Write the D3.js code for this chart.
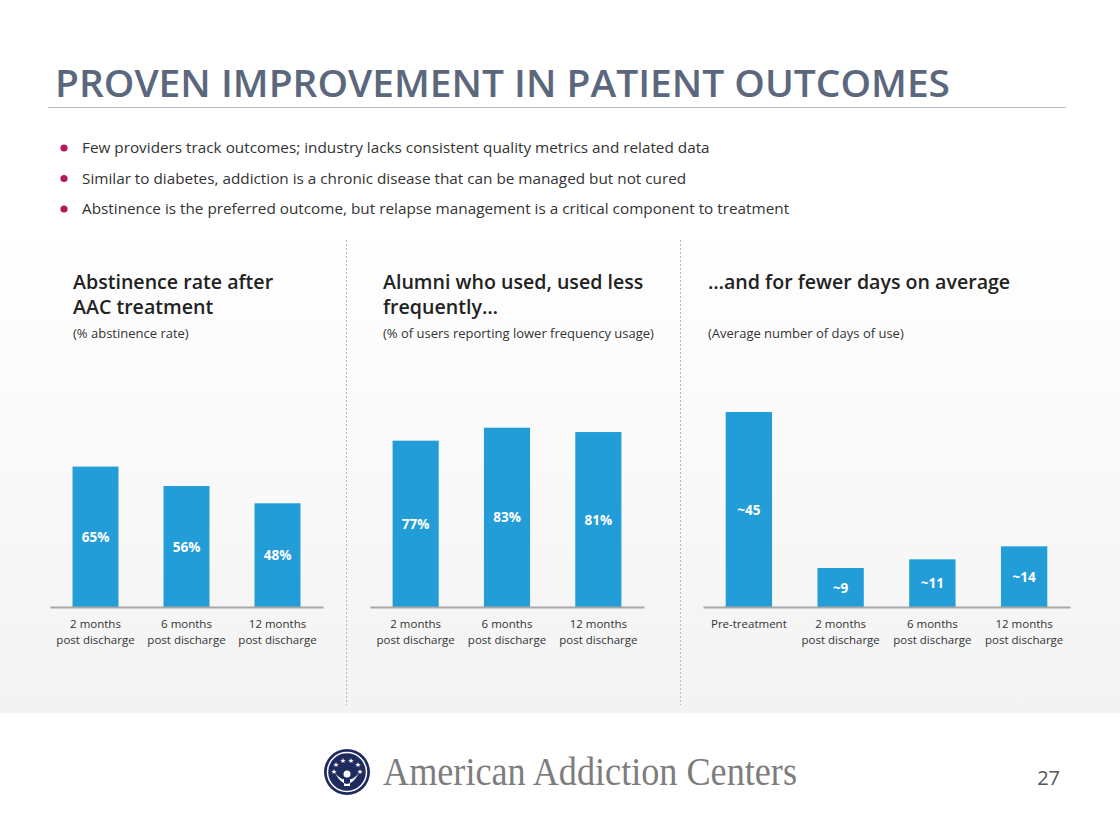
<!DOCTYPE html>
<html><head><meta charset="utf-8">
<script src="https://cdnjs.cloudflare.com/ajax/libs/d3/7.8.5/d3.min.js"></script>
<style>
html,body{margin:0;padding:0;background:#fff;}
svg{display:block;font-family:"Open Sans",sans-serif;}
</style></head>
<body>
<svg id="c" width="1120" height="840"></svg>
<script>
const titleText = "PROVEN IMPROVEMENT IN PATIENT OUTCOMES";
const bullets = [
  "Few providers track outcomes; industry lacks consistent quality metrics and related data",
  "Similar to diabetes, addiction is a chronic disease that can be managed but not cured",
  "Abstinence is the preferred outcome, but relapse management is a critical component to treatment"
];

const abstCategories = [["2 months","post discharge"],["6 months","post discharge"],["12 months","post discharge"]];
const abstValues = [65, 56, 48];
const abstLabels = ["65%","56%","48%"];

const freqCategories = [["2 months","post discharge"],["6 months","post discharge"],["12 months","post discharge"]];
const freqValues = [77, 83, 81];
const freqLabels = ["77%","83%","81%"];

const daysCategories = [["Pre-treatment"],["2 months","post discharge"],["6 months","post discharge"],["12 months","post discharge"]];
const daysValues = [45, 9, 11, 14];
const daysLabels = ["~45","~9","~11","~14"];

const panelTitles = [["Abstinence rate after","AAC treatment"],["Alumni who used, used less","frequently…"],["…and for fewer days on average"]];
const panelSubtitles = ["(% abstinence rate)","(% of users reporting lower frequency usage)","(Average number of days of use)"];

const svg = d3.select("#c");
const defs = svg.append("defs");
const grad = defs.append("linearGradient").attr("id","bg").attr("x1",0).attr("y1",0).attr("x2",0).attr("y2",1);
grad.append("stop").attr("offset","0%").attr("stop-color","#ffffff");
grad.append("stop").attr("offset","100%").attr("stop-color","#f3f3f3");

svg.append("rect").attr("x",0).attr("y",225).attr("width",1120).attr("height",488).attr("fill","url(#bg)");

// Title
svg.append("text").attr("x",55).attr("y",97).attr("font-size",38).attr("font-weight",600)
  .attr("fill","#5b677c").attr("textLength",895).attr("lengthAdjust","spacingAndGlyphs").text(titleText);
svg.append("line").attr("x1",48).attr("x2",1066).attr("y1",107.5).attr("y2",107.5)
  .attr("stroke","#bdbdbd").attr("stroke-width",1.2);

// Bullets
bullets.forEach((b,i)=>{
  const y = 153 + i*30.5;
  svg.append("circle").attr("cx",64).attr("cy",y-5).attr("r",3.6).attr("fill","#b3185b");
  svg.append("text").attr("x",82).attr("y",y).attr("font-size",15.3).attr("fill","#333").text(b);
});

// dividers
[346,680].forEach(x=>{
  svg.append("line").attr("x1",x+0.5).attr("x2",x+0.5).attr("y1",240).attr("y2",705)
    .attr("stroke","#b8b8b8").attr("stroke-width",1).attr("stroke-dasharray","2,2");
});

// Panel titles
const titleX = [73,383,708];
panelTitles.forEach((lines,i)=>{
  lines.forEach((l,j)=>{
    svg.append("text").attr("x",titleX[i]).attr("y",289+j*24.5).attr("font-size",19.6)
      .attr("font-weight",600).attr("fill","#222").text(l);
  });
  svg.append("text").attr("x",titleX[i]).attr("y",338).attr("font-size",13)
    .attr("fill","#333").text(panelSubtitles[i]);
});

const baseY = 607;
function drawPanel(cats, vals, labels, x0, x1, yMax, yTop){
  const keys = cats.map(c=>c.join(" "));
  const x = d3.scaleBand().domain(keys).range([x0,x1]).paddingInner(0.495).paddingOuter(0.2475);
  const y = d3.scaleLinear().domain([0,yMax]).range([baseY,yTop]);
  const g = svg.append("g");
  g.selectAll("rect").data(vals).join("rect")
    .attr("x",(d,i)=>x(keys[i])).attr("width",x.bandwidth())
    .attr("y",d=>y(d)).attr("height",d=>baseY-y(d)).attr("fill","#239dd8");
  g.selectAll("text.v").data(vals).join("text").attr("class","v")
    .attr("x",(d,i)=>x(keys[i])+x.bandwidth()/2).attr("y",d=>y(d/2)+5)
    .attr("text-anchor","middle").attr("font-size",13.5).attr("font-weight",700)
    .attr("fill","#fff").text((d,i)=>labels[i]);
  const axis = d3.axisBottom(x).tickSize(0).tickPadding(0).tickFormat(()=> "");
  const ag = g.append("g").attr("transform",`translate(0,${baseY})`).call(axis);
  ag.select(".domain").attr("stroke","#a8a8a8").attr("stroke-width",2);
  ag.selectAll(".tick").each(function(k,i){
    const t = d3.select(this);
    cats[i].forEach((line,j)=>{
      t.append("text").attr("y",21+j*15.5).attr("text-anchor","middle")
        .attr("font-size",11.5).attr("fill","#333").attr("font-family","Open Sans, sans-serif").text(line);
    });
  });
}
drawPanel(abstCategories, abstValues, abstLabels, 50, 323, 100, 607-216);
drawPanel(freqCategories, freqValues, freqLabels, 370, 644, 100, 607-216);
drawPanel(daysCategories, daysValues, daysLabels, 703, 1070, 45, 412);

// Footer logo
const lg = svg.append("g").attr("transform","translate(347,772)");
lg.append("circle").attr("r",23).attr("fill","#1f2b5e");
lg.append("circle").attr("r",19.5).attr("fill","none").attr("stroke","#fff").attr("stroke-width",1.5);
[[-11,-8],[-4,-12],[4,-12],[11,-8],[-13,-1],[13,-1]].forEach(([sx,sy])=>{
  lg.append("text").attr("x",sx).attr("y",sy+2.5).attr("text-anchor","middle").attr("font-size",7)
    .attr("fill","#fff").attr("font-family","DejaVu Sans").text("★");
});
lg.append("circle").attr("cx",0).attr("cy",2).attr("r",3.5).attr("fill","#fff");
lg.append("path").attr("d","M-12,1 Q-6,8 -3,7 L-3,14 L3,14 L3,7 Q6,8 12,1 Q6,12 0,12 Q-6,12 -12,1 Z").attr("fill","#fff");

svg.append("text").attr("x",383).attr("y",785).attr("font-family","Liberation Serif, serif")
  .attr("font-size",39).attr("fill","#7d7d7d").attr("textLength",414).attr("lengthAdjust","spacingAndGlyphs")
  .text("American Addiction Centers");

svg.append("text").attr("x",1060).attr("y",785).attr("text-anchor","end").attr("font-size",20)
  .attr("fill","#555").text("27");
</script>
</body></html>
